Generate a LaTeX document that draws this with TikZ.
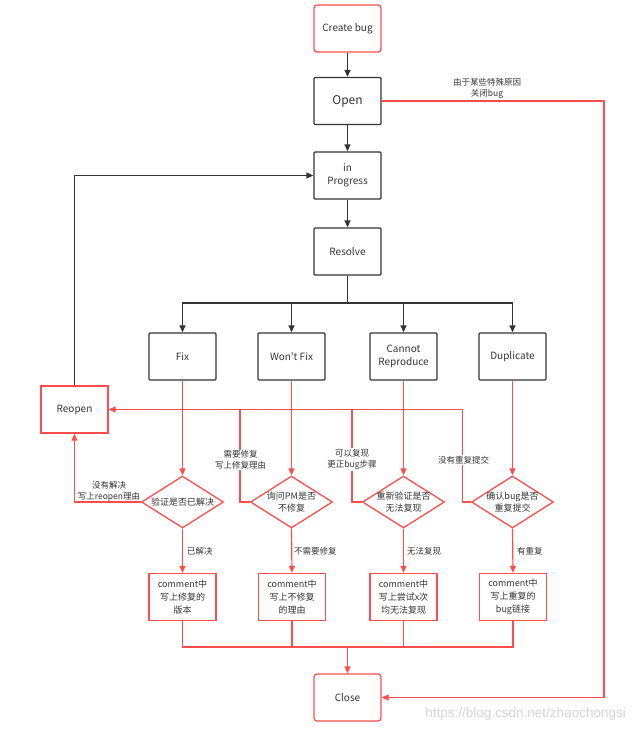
\documentclass[tikz,border=0pt]{standalone}
\usepackage{fontspec}
\setmainfont{Noto Sans CJK SC}
\newfontfamily\plainfont{Noto Sans CJK SC}
\newfontfamily\wmfont{Liberation Sans}
\usetikzlibrary{arrows.meta,shapes.geometric}
\definecolor{lred}{HTML}{FF4D4D}
\definecolor{ink}{HTML}{333333}
\definecolor{wmgray}{HTML}{D4D4D4}

\begin{document}
\begin{tikzpicture}[x=1pt,y=-1pt,
  box/.style={draw=ink, line width=1.3pt, minimum width=67pt, minimum height=47pt,
    inner sep=2pt, align=center, font=\fontsize{10}{12.5}\selectfont, text=ink,
    rounded corners=1pt},
  rbox/.style={box, draw=lred},
  cbox/.style={rbox, rounded corners=0pt, font=\fontsize{9}{13}\selectfont},
  rdia/.style={diamond, draw=lred, line width=1.3pt, minimum width=82pt,
    minimum height=52pt, inner sep=0pt},
  dtext/.style={font=\fontsize{9}{12}\selectfont, text=ink, align=center, inner sep=0pt},
  tip/.style={-{Triangle[length=7pt,width=6pt]}},
  dline/.style={draw=ink, line width=1.3pt},
  darr/.style={dline, tip},
  rline/.style={draw=lred, line width=1.2pt},
  rarr/.style={rline, tip},
  note/.style={font=\fontsize{8.5}{11}\selectfont, text=ink, align=center, inner sep=1pt},
  wnote/.style={note, fill=white}
]
\useasboundingbox (0,0) rectangle (635,732);

% main states
\node[rbox, rounded corners=3pt] (create) at (347.5,28.5) {Create bug};
\node[box, font=\fontsize{12}{14}\selectfont] (open) at (347.5,101) {Open};
\node[box] (prog) at (347.5,175.5) {in\\Progress};
\node[box] (resolve) at (347.5,251.5) {Resolve};

% resolutions
\node[box] (fix) at (182.5,356.5) {Fix};
\node[box, font=\plainfont\fontsize{10}{12.5}\selectfont] (wont) at (291.5,356.5) {Won't Fix};
\node[box] (cannot) at (403.5,356.5) {Cannot\\Reproduce};
\node[box] (dup) at (512.5,356.5) {Duplicate};

\node[rbox, rounded corners=0pt] (reopen) at (74.5,409.5) {Reopen};

% checks
\node[rdia] (d1) at (182.5,502) {};
\node[rdia] (d2) at (291.5,502) {};
\node[rdia] (d3) at (403.5,502) {};
\node[rdia] (d4) at (512.5,502) {};
\node[dtext] (d1t) at (d1) {验证是否已解决};
\node[dtext] (d2t) at (d2) {询问PM是否\\不修复};
\node[dtext] (d3t) at (d3) {重新验证是否\\无法复现};
\node[dtext] (d4t) at (d4) {确认bug是否\\重复提交};

% comments
\node[cbox] (c1) at (182.5,597) {comment中\\写上修复的\\版本};
\node[cbox] (c2) at (292,597) {comment中\\写上不修复\\的理由};
\node[cbox] (c3) at (403.5,597) {comment中\\写上尝试x次\\均无法复现};
\node[cbox] (c4) at (513,597) {comment中\\写上重复的\\bug链接};

\node[rbox, rounded corners=3pt] (close) at (347.5,697.5) {Close};

% helper points
\coordinate (bj) at (347.5,303);
\coordinate (k2) at (240,409.5);
\coordinate (k3) at (352,409.5);
\coordinate (k4) at (462.5,409.5);
\coordinate (oc) at (604,101);
\coordinate (mj) at (347.5,647);

% black flow
\draw[darr] (create) -- (open);
\draw[darr] (open) -- (prog);
\draw[darr] (prog) -- (resolve);
\draw[dline] (resolve.south) -- (bj);
\draw[darr] (bj) -| (fix.north);
\draw[darr] (bj) -| (wont.north);
\draw[darr] (bj) -| (cannot.north);
\draw[darr] (bj) -| (dup.north);
\draw[darr] (reopen.north) |- (prog.west);

% close shortcut
\draw[rarr] (open.east) -- (oc) |- (close.east);
\node[note] (closenote) at (487,88) {由于某些特殊原因\\关闭bug};

% back to reopen
\draw[rline] (d2.west) -| (k2);
\draw[rline] (d3.west) -| (k3);
\draw[rarr] (d4.west) -| (k4) -- (reopen.east);
\draw[rarr] (d1.west) -| (reopen.south);

% resolution to check
\draw[rarr] (fix.south) -- (d1.north);
\draw[rarr] (wont.south) -- (d2.north);
\draw[rarr] (cannot.south) -- (d3.north);
\draw[rarr] (dup.south) -- (d4.north);

% check to comment
\draw[rarr] (d1.south) -- (c1.north);
\draw[rarr] (d2.south) -- (c2.north);
\draw[rarr] (d3.south) -- (c3.north);
\draw[rarr] (d4.south) -- (c4.north);

% comments merge into close
\draw[rline] (c1.south) |- (mj);
\draw[rline] (c2.south) |- (mj);
\draw[rline] (c3.south) |- (mj);
\draw[rline] (c4.south) |- (mj);
\draw[rarr] (mj) -- (close.north);

% labels
\node[note] (l1) at (109,491) {没有解决\\写上reopen理由};
\node[wnote] (l2) at (240.5,460) {需要修复\\写上修复理由};
\node[wnote] (l3) at (352,459.5) {可以复现\\更正bug步骤};
\node[wnote] (l4) at (463.5,460) {没有重复提交};
\node[note, anchor=west] (y1) at (186,551) {已解决};
\node[note, anchor=west] (y2) at (293,551) {不需要修复};
\node[note, anchor=west] (y3) at (406,551) {无法复现};
\node[note, anchor=west] (y4) at (516,551) {有重复};

% watermark
\node[anchor=east, text=wmgray, font=\wmfont\fontsize{13.5}{15}\selectfont, inner sep=0pt] (wm) at (626,714) {https://blog.csdn.net/zhaochongsi};
\end{tikzpicture}
\end{document}
